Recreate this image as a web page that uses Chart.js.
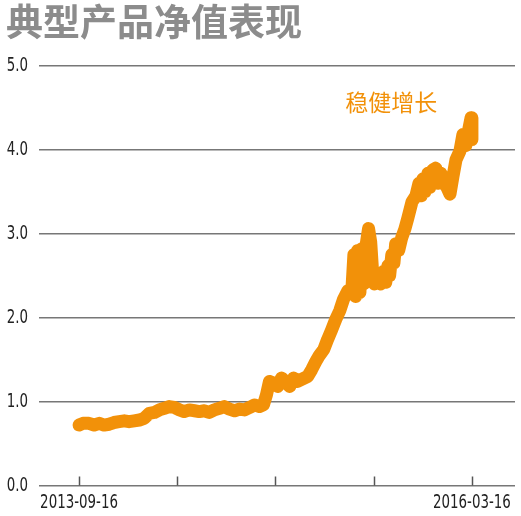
<!DOCTYPE html>
<html>
<head>
<meta charset="utf-8">
<script src="https://cdn.jsdelivr.net/npm/chart.js@4/dist/chart.umd.min.js"></script>
<style>
  html, body { margin: 0; padding: 0; background: #fff; }
  #wrap { width: 521px; height: 516px; position: relative; }
</style>
</head>
<body>
<div id="wrap"><canvas id="navChart"></canvas></div>
<script>
// days since 2013-09-16
var days = [0, 9, 23, 35, 47, 58, 70, 81, 93, 105, 116, 128, 140, 151, 163, 175, 186, 198, 209, 221,
  233, 244, 256, 268, 279, 291, 302, 314, 326, 337, 349, 361, 372, 384, 396, 407, 419, 428, 435, 442,
  451, 461, 470, 479, 489, 498, 507, 519, 531, 540, 549, 558, 568, 577, 586, 596, 605, 614, 624, 628,
  633, 638, 642, 647, 652, 656, 661, 666, 672, 677, 682, 686, 693, 700, 707, 712, 717, 721, 726, 731,
  735, 742, 749, 756, 763, 773, 782, 789, 794, 798, 803, 810, 814, 821, 828, 833, 840, 847, 854, 861,
  868, 875, 884, 891, 898, 905, 910, 912];
var nav = [0.72, 0.74, 0.74, 0.72, 0.74, 0.72, 0.73, 0.75, 0.76, 0.77, 0.76, 0.77, 0.78, 0.80, 0.86, 0.87, 0.90, 0.92, 0.94, 0.93,
  0.90, 0.88, 0.90, 0.89, 0.88, 0.89, 0.87, 0.90, 0.92, 0.94, 0.91, 0.89, 0.91, 0.90, 0.93, 0.96, 0.94, 0.96, 1.08, 1.24,
  1.22, 1.18, 1.28, 1.24, 1.18, 1.28, 1.24, 1.27, 1.30, 1.38, 1.47, 1.55, 1.62, 1.74, 1.85, 1.98, 2.08, 2.22, 2.32, 2.28,
  2.30, 2.75, 2.25, 2.80, 2.30, 2.82, 2.40, 2.85, 3.06, 2.90, 2.50, 2.40, 2.45, 2.40, 2.55, 2.42, 2.62, 2.50, 2.75, 2.65,
  2.88, 2.80, 2.95, 3.05, 3.18, 3.38, 3.45, 3.60, 3.45, 3.65, 3.50, 3.72, 3.55, 3.76, 3.78, 3.60, 3.72, 3.62, 3.55, 3.47,
  3.68, 3.88, 3.98, 4.18, 4.05, 4.25, 4.38, 4.12];
var xTicks = [0, 228, 456, 684, 912];
var xTickLabels = ['2013-09-16', '', '', '', '2016-03-16'];
var yTicks = [0, 1, 2, 3, 4, 5];
var seriesName = '稳健增长';
var titleText = '典型产品净值表现';

var orange = '#f29109';

// condensed-looking tick labels (no condensed face installed, so squeeze horizontally)
function squeezedText(ctx, text, x, y, align) {
  ctx.save();
  ctx.translate(x, y);
  ctx.scale(0.67, 1);
  ctx.textAlign = align;
  ctx.textBaseline = 'middle';
  ctx.fillText(text, 0, 0);
  ctx.restore();
}

var axisLabels = {
  id: 'axisLabels',
  afterDraw: function(chart) {
    var x = chart.scales.x, y = chart.scales.y, ctx = chart.ctx, area = chart.chartArea;
    var base = y.getPixelForValue(0);
    ctx.save();
    // short tick marks pointing up from the x axis
    ctx.strokeStyle = '#555';
    ctx.lineWidth = 1.5;
    xTicks.forEach(function(v) {
      var px = Math.round(x.getPixelForValue(v)) + 0.5;
      ctx.beginPath();
      ctx.moveTo(px, base);
      ctx.lineTo(px, base - 9);
      ctx.stroke();
    });
    ctx.fillStyle = '#222';
    ctx.font = "20px 'DejaVu Sans', sans-serif";
    yTicks.forEach(function(v) {
      squeezedText(ctx, v.toFixed(1), area.left - 11, y.getPixelForValue(v), 'right');
    });
    xTicks.forEach(function(v, i) {
      if (xTickLabels[i]) squeezedText(ctx, xTickLabels[i], x.getPixelForValue(v), base + 17, 'center');
    });
    // series name above the end of the line
    ctx.fillStyle = orange;
    ctx.font = "23px 'Noto Sans CJK SC', sans-serif";
    ctx.textAlign = 'center';
    ctx.textBaseline = 'middle';
    ctx.fillText(seriesName, x.getPixelForValue(725), y.getPixelForValue(4.56));
    ctx.restore();
  }
};

new Chart(document.getElementById('navChart'), {
  type: 'line',
  data: {
    datasets: [{
      label: seriesName,
      data: days.map(function(d, i) { return { x: d, y: nav[i] }; }),
      borderColor: orange,
      backgroundColor: orange,
      borderWidth: 13,
      borderCapStyle: 'round',
      borderJoinStyle: 'round',
      pointRadius: 0,
      tension: 0,
      fill: false
    }]
  },
  options: {
    responsive: true,
    maintainAspectRatio: false,
    animation: false,
    layout: { padding: { left: 6, right: 6, top: 2, bottom: 0 } },
    plugins: {
      legend: { display: false },
      tooltip: { enabled: false },
      title: {
        display: true,
        text: titleText,
        align: 'start',
        color: '#8c8c8c',
        font: { family: "'Noto Sans CJK SC', sans-serif", size: 37, weight: 'bold', lineHeight: 1.1 },
        padding: { top: 0, bottom: 23 }
      }
    },
    scales: {
      x: {
        type: 'linear',
        min: -93,
        max: 1012,
        afterBuildTicks: function(s) { s.ticks = xTicks.map(function(v) { return { value: v }; }); },
        afterFit: function(s) { s.height = 30.5; },
        grid: { display: false },
        border: { display: false },
        ticks: { display: false }
      },
      y: {
        min: 0,
        max: 5,
        afterBuildTicks: function(s) { s.ticks = yTicks.map(function(v) { return { value: v }; }); },
        afterFit: function(s) { s.width = 33; },
        grid: { color: '#777', lineWidth: 1.5, drawTicks: false },
        border: { display: false },
        ticks: { display: false }
      }
    }
  },
  plugins: [axisLabels]
});
</script>
</body>
</html>
